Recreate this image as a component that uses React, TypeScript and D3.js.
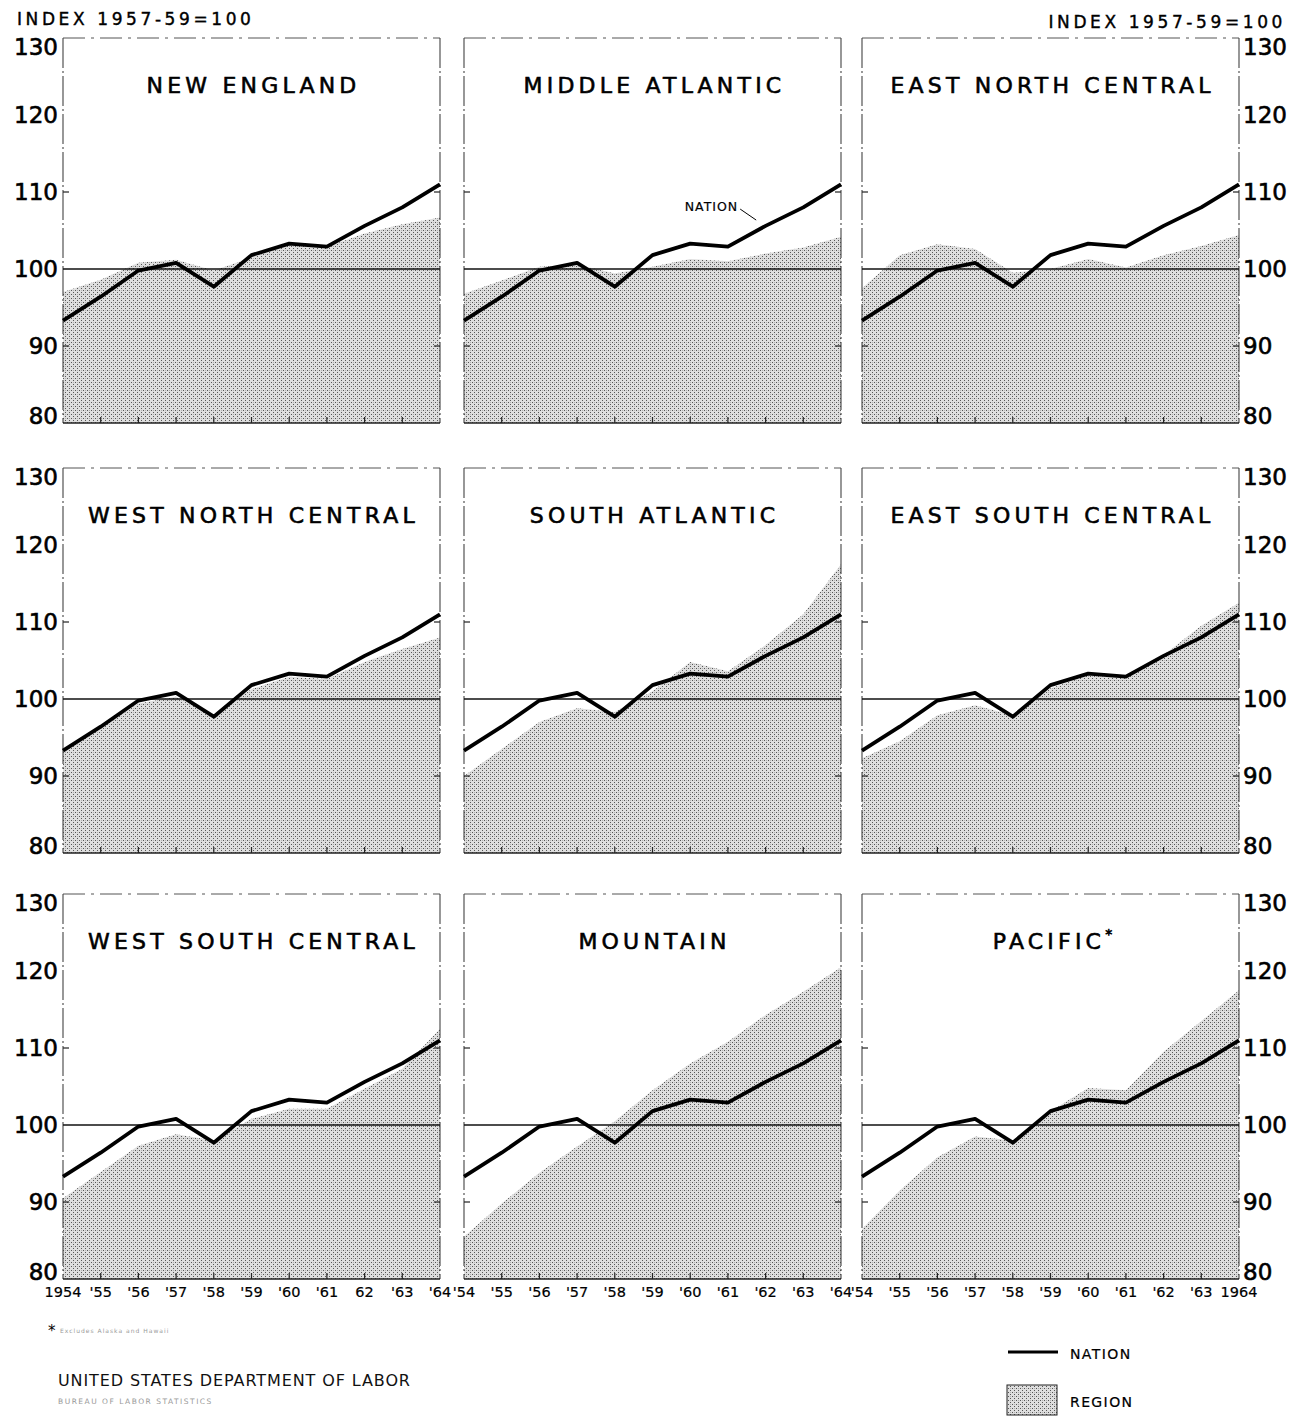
import React from "react";
import * as d3 from "d3";

// years on the x axis
const years = [1954, 1955, 1956, 1957, 1958, 1959, 1960, 1961, 1962, 1963, 1964];

// national index, same line in every panel
const nation = [93.3, 96.4, 99.8, 100.8, 97.7, 101.8, 103.3, 102.9, 105.6, 108.0, 111.0];

// regional indexes (shaded area)
const newEngland = [97.0, 98.6, 100.8, 101.2, 99.8, 101.5, 103.2, 102.9, 104.6, 105.8, 106.7];
const middleAtlantic = [96.8, 98.5, 100.3, 100.6, 99.4, 100.3, 101.3, 101.0, 102.0, 102.8, 104.2];
const eastNorthCentral = [97.5, 101.8, 103.2, 102.6, 99.5, 100.0, 101.3, 100.2, 101.8, 103.0, 104.4];
const westNorthCentral = [93.4, 96.3, 99.4, 100.3, 98.0, 101.3, 102.9, 102.6, 104.8, 106.5, 108.0];
const southAtlantic = [90.0, 93.5, 97.0, 98.8, 98.3, 101.0, 104.8, 103.6, 107.0, 111.0, 117.5];
const eastSouthCentral = [92.3, 94.5, 97.9, 99.2, 97.9, 101.4, 103.1, 102.7, 105.7, 109.5, 112.5];
const westSouthCentral = [90.5, 93.9, 97.3, 98.8, 98.0, 100.8, 102.1, 102.1, 104.7, 107.3, 112.5];
const mountain = [85.5, 89.8, 93.8, 97.2, 100.5, 104.5, 108.0, 110.8, 114.3, 117.3, 120.5];
const pacific = [86.5, 91.5, 95.8, 98.5, 98.0, 101.8, 104.8, 104.5, 109.5, 113.5, 117.5];

const regionNames = [
  "NEW ENGLAND", "MIDDLE ATLANTIC", "EAST NORTH CENTRAL",
  "WEST NORTH CENTRAL", "SOUTH ATLANTIC", "EAST SOUTH CENTRAL",
  "WEST SOUTH CENTRAL", "MOUNTAIN", "PACIFIC",
];
const regionSeries = [
  newEngland, middleAtlantic, eastNorthCentral,
  westNorthCentral, southAtlantic, eastSouthCentral,
  westSouthCentral, mountain, pacific,
];

const yTicks = [80, 90, 100, 110, 120, 130];
const xLabelsLeft = ["1954", "'55", "'56", "'57", "'58", "'59", "'60", "'61", "62", "'63", "'64"];
const xLabelsMid = ["'54", "'55", "'56", "'57", "'58", "'59", "'60", "'61", "'62", "'63", "'64"];
const xLabelsRight = ["'54", "'55", "'56", "'57", "'58", "'59", "'60", "'61", "'62", "'63", "1964"];

const W = 1296;
const H = 1416;
const colX = [63, 464, 862];
const rowY = [38, 468, 894];
const pw = 377;
const ph = 385;
const font = "'DejaVu Sans', sans-serif";

const x = d3.scaleLinear().domain([1954, 1964]).range([0, pw]);
const y = d3.scaleLinear().domain([80, 130]).range([ph, 0]);

const area = d3
  .area<number>()
  .x((_, i) => x(years[i]))
  .y0(y(80))
  .y1((d) => y(d));
const line = d3
  .line<number>()
  .x((_, i) => x(years[i]))
  .y((d) => y(d));

function Panel({ idx }: { idx: number }) {
  const col = idx % 3;
  const row = Math.floor(idx / 3);
  const values = regionSeries[idx];
  const name = regionNames[idx];
  const isPacific = name === "PACIFIC";

  // leader for the "NATION" note in the middle atlantic panel
  const noteYear = 1961.75;
  const noteVal = d3.scaleLinear().domain(years).range(nation)(noteYear);

  return (
    <g transform={`translate(${colX[col]},${rowY[row]})`}>
      <path d={area(values) || ""} fill="url(#stipple)" />
      {/* frame */}
      <line x1={0} x2={pw} y1={0} y2={0} stroke="#555" strokeWidth={1} strokeDasharray="22 6 3 6" />
      <line x1={0} x2={0} y1={0} y2={ph} stroke="#444" strokeWidth={1.1} strokeDasharray="30 3 2 3" />
      <line x1={pw} x2={pw} y1={0} y2={ph} stroke="#444" strokeWidth={1.1} strokeDasharray="30 3 2 3" />
      <line x1={0} x2={pw} y1={ph} y2={ph} stroke="#222" strokeWidth={1.5} />
      {/* tick marks */}
      {years.slice(1, -1).map((yr) => (
        <line key={yr} x1={x(yr)} x2={x(yr)} y1={ph} y2={ph - 6} stroke="#222" strokeWidth={1.2} />
      ))}
      {[90, 110].map((v) => (
        <g key={v}>
          <line x1={0} x2={6} y1={y(v)} y2={y(v)} stroke="#222" strokeWidth={1.2} />
          <line x1={pw - 6} x2={pw} y1={y(v)} y2={y(v)} stroke="#222" strokeWidth={1.2} />
        </g>
      ))}
      {/* base line */}
      <line x1={0} x2={pw} y1={y(100)} y2={y(100)} stroke="#111" strokeWidth={1.3} />
      <path d={line(nation) || ""} fill="none" stroke="#000" strokeWidth={3.8} strokeLinejoin="round" />
      <text
        x={pw / 2 + 2}
        y={55}
        textAnchor="middle"
        fontFamily={font}
        fontSize={22}
        letterSpacing={4.2}
        fill="#000"
        stroke="#000"
        strokeWidth={0.6}
      >
        {name}
        {isPacific && (
          <tspan dy={-10} fontSize={14} letterSpacing={0}>*</tspan>
        )}
      </text>
      {name === "MIDDLE ATLANTIC" && (
        <g>
          <line
            x1={x(noteYear) - 16}
            y1={y(noteVal) - 22}
            x2={x(noteYear)}
            y2={y(noteVal) - 11}
            stroke="#000"
            strokeWidth={1}
          />
          <text
            x={x(noteYear) - 18}
            y={y(noteVal) - 20}
            textAnchor="end"
            fontFamily={font}
            fontSize={12.5}
            letterSpacing={1}
            stroke="#000"
            strokeWidth={0.2}
          >
            NATION
          </text>
        </g>
      )}
      {row === 2 &&
        (col === 0 ? xLabelsLeft : col === 1 ? xLabelsMid : xLabelsRight).map((lab, i) => (
          <text
            key={i}
            x={x(years[i])}
            y={ph + 18}
            textAnchor="middle"
            fontFamily={font}
            fontSize={14.5}
            fill="#000"
            stroke="#000"
            strokeWidth={0.2}
          >
            {lab}
          </text>
        ))}
      {col === 0 &&
        yTicks.map((v) => (
          <text
            key={v}
            x={-5}
            y={y(v) + 8 + (v === 130 ? 9 : v === 80 ? -7 : 0)}
            textAnchor="end"
            fontFamily={font}
            fontSize={23}
            fill="#000"
            stroke="#000"
            strokeWidth={0.6}
          >
            {v}
          </text>
        ))}
      {col === 2 &&
        yTicks.map((v) => (
          <text
            key={v}
            x={pw + 4}
            y={y(v) + 8 + (v === 130 ? 9 : v === 80 ? -7 : 0)}
            textAnchor="start"
            fontFamily={font}
            fontSize={23}
            fill="#000"
            stroke="#000"
            strokeWidth={0.6}
          >
            {v}
          </text>
        ))}
    </g>
  );
}

export default function App() {
  return (
    <svg
      width={W}
      height={H}
      style={{ position: "absolute", left: 0, top: 0, background: "#fff" }}
    >
      <defs>
        <pattern id="stipple" width={4} height={4} patternUnits="userSpaceOnUse">
          <rect width={4} height={4} fill="#dedede" />
          <rect x={0} y={0} width={1} height={1} fill="#555" />
          <rect x={2} y={2} width={1} height={1} fill="#555" />
          <rect x={2} y={0} width={1} height={1} fill="#b0b0b0" />
        </pattern>
      </defs>
      <rect width={W} height={H} fill="#fff" />
      <text x={17} y={25} fontFamily={font} fontSize={17} letterSpacing={3.6} stroke="#000" strokeWidth={0.4}>
        INDEX 1957-59=100
      </text>
      <text x={1286} y={28} textAnchor="end" fontFamily={font} fontSize={17} letterSpacing={3.6} stroke="#000" strokeWidth={0.4}>
        INDEX 1957-59=100
      </text>
      {regionNames.map((_, i) => (
        <Panel key={i} idx={i} />
      ))}
      {/* footnote */}
      <text x={48} y={1336} fontFamily={font} fontSize={15}>*</text>
      <text x={60} y={1333} fontFamily={font} fontSize={6} fill="#999" letterSpacing={1}>
        Excludes Alaska and Hawaii
      </text>
      <text x={58} y={1386} fontFamily={font} fontSize={16} letterSpacing={0.9} fill="#111">
        UNITED STATES DEPARTMENT OF LABOR
      </text>
      <text x={58} y={1404} fontFamily={font} fontSize={7.5} fill="#999" letterSpacing={1.5}>
        BUREAU OF LABOR STATISTICS
      </text>
      {/* legend */}
      <line x1={1008} x2={1058} y1={1352} y2={1352} stroke="#000" strokeWidth={3} />
      <text x={1070} y={1359} fontFamily={font} fontSize={14} letterSpacing={1.4} stroke="#000" strokeWidth={0.2}>
        NATION
      </text>
      <rect x={1007} y={1385} width={50} height={30} fill="url(#stipple)" stroke="#222" strokeWidth={1} />
      <text x={1070} y={1407} fontFamily={font} fontSize={14} letterSpacing={1.4} stroke="#000" strokeWidth={0.2}>
        REGION
      </text>
    </svg>
  );
}
